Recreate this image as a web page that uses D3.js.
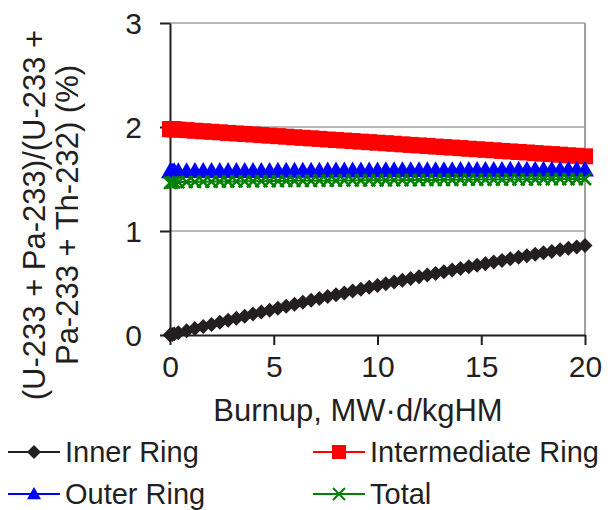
<!DOCTYPE html>
<html>
<head>
<meta charset="utf-8">
<script src="https://cdn.jsdelivr.net/npm/d3@7"></script>
<style>
  body { margin: 0; background: #fff; }
  text { font-family: "Liberation Sans", Arial, sans-serif; fill: #231f20; }
</style>
</head>
<body>
<div id="chart"></div>
<script>
// burnup points, MW·d/kgHM
var burnup = [0, 0.1, 0.2, 0.4, 0.8, 1.2, 1.6, 2.0, 2.4, 2.8, 3.2, 3.6, 4.0, 4.4, 4.8, 5.2, 5.6, 6.0, 6.4, 6.8,
  7.2, 7.6, 8.0, 8.4, 8.8, 9.2, 9.6, 10.0, 10.4, 10.8, 11.2, 11.6, 12.0, 12.4, 12.8, 13.2, 13.6, 14.0,
  14.4, 14.8, 15.2, 15.6, 16.0, 16.4, 16.8, 17.2, 17.6, 18.0, 18.4, 18.8, 19.2, 19.6, 20.0];

var innerRing = [0, 0.005, 0.010, 0.021, 0.041, 0.062, 0.082, 0.102, 0.122, 0.142, 0.162, 0.181, 0.201, 0.220, 0.239, 0.258, 0.277, 0.296, 0.314, 0.333,
  0.351, 0.369, 0.387, 0.405, 0.423, 0.440, 0.458, 0.475, 0.492, 0.509, 0.526, 0.543, 0.559, 0.576, 0.592, 0.608, 0.624, 0.640,
  0.656, 0.671, 0.686, 0.702, 0.717, 0.732, 0.747, 0.761, 0.776, 0.790, 0.804, 0.819, 0.833, 0.846, 0.860];

var intermediateRing = [1.980, 1.979, 1.977, 1.975, 1.970, 1.964, 1.959, 1.954, 1.949, 1.943, 1.938, 1.933, 1.928, 1.922, 1.917, 1.912, 1.907, 1.901, 1.896, 1.891,
  1.886, 1.880, 1.875, 1.870, 1.865, 1.859, 1.854, 1.849, 1.844, 1.839, 1.833, 1.828, 1.823, 1.818, 1.812, 1.807, 1.802, 1.797,
  1.791, 1.786, 1.781, 1.776, 1.770, 1.765, 1.760, 1.755, 1.749, 1.744, 1.739, 1.734, 1.728, 1.723, 1.718];

var outerRing = [1.572, 1.573, 1.574, 1.575, 1.575, 1.576, 1.576, 1.576, 1.577, 1.577, 1.577, 1.578, 1.578, 1.578, 1.578, 1.579, 1.579, 1.579, 1.580, 1.580,
  1.580, 1.581, 1.581, 1.581, 1.582, 1.582, 1.582, 1.582, 1.583, 1.583, 1.583, 1.584, 1.584, 1.584, 1.585, 1.585, 1.585, 1.586,
  1.586, 1.586, 1.587, 1.587, 1.587, 1.588, 1.588, 1.588, 1.588, 1.589, 1.589, 1.589, 1.590, 1.590, 1.590];

var total = [1.463, 1.465, 1.467, 1.470, 1.472, 1.473, 1.474, 1.475, 1.476, 1.476, 1.477, 1.478, 1.478, 1.479, 1.480, 1.480, 1.481, 1.482, 1.482, 1.483,
  1.484, 1.484, 1.485, 1.486, 1.486, 1.487, 1.487, 1.488, 1.488, 1.489, 1.489, 1.490, 1.490, 1.491, 1.491, 1.492, 1.492, 1.493,
  1.493, 1.494, 1.494, 1.495, 1.495, 1.496, 1.496, 1.497, 1.497, 1.498, 1.498, 1.499, 1.499, 1.500, 1.500];

var seriesNames = ["Inner Ring", "Intermediate Ring", "Outer Ring", "Total"];
var seriesColors = ["#231f20", "#ff0000", "#0000ff", "#008000"];
var seriesMarkers = ["diamond", "square", "triangle", "cross"];
var xTicks = [0, 5, 10, 15, 20];
var yTicks = [0, 1, 2, 3];

var series = [innerRing, intermediateRing, outerRing, total].map(function(vals, i) {
  return {
    name: seriesNames[i], color: seriesColors[i], marker: seriesMarkers[i],
    values: vals.map(function(v, j) { return { x: burnup[j], y: v }; })
  };
});

var width = 613, height = 510;
var plotLeft = 170, plotRight = 585, plotTop = 23, plotBottom = 335;

var svg = d3.select("#chart").append("svg")
  .attr("width", width)
  .attr("height", height);

var x = d3.scaleLinear().domain([0, 20]).range([plotLeft, plotRight]);
var y = d3.scaleLinear().domain([0, 3]).range([plotBottom, plotTop]);

// marker shapes, r = half size
function markerPath(type, r) {
  if (type == "diamond") return "M0," + (-r) + "L" + r + ",0L0," + r + "L" + (-r) + ",0Z";
  if (type == "square") return "M" + (-r) + "," + (-r) + "h" + (2 * r) + "v" + (2 * r) + "h" + (-2 * r) + "Z";
  if (type == "triangle") return "M0," + (-r) + "L" + r + "," + (r * 0.75) + "L" + (-r) + "," + (r * 0.75) + "Z";
  return "M" + (-r) + "," + (-r) + "L" + r + "," + r + "M" + (-r) + "," + r + "L" + r + "," + (-r);
}
var markerSize = { diamond: 7.5, square: 8, triangle: 9, cross: 6 };

// gridlines
svg.append("g").selectAll("line")
  .data(yTicks.filter(function(d) { return d > 0; }))
  .enter().append("line")
  .attr("x1", plotLeft).attr("x2", plotRight)
  .attr("y1", function(d) { return y(d); })
  .attr("y2", function(d) { return y(d); })
  .attr("stroke", "#a0a0a0")
  .attr("stroke-width", 1.5);

// right border of plot area
svg.append("line")
  .attr("x1", plotRight).attr("x2", plotRight)
  .attr("y1", plotTop).attr("y2", plotBottom)
  .attr("stroke", "#a0a0a0")
  .attr("stroke-width", 2);

// axes
var xAxis = svg.append("g")
  .attr("transform", "translate(0," + plotBottom + ")")
  .call(d3.axisBottom(x).tickValues(xTicks).tickSizeInner(10).tickSizeOuter(0).tickPadding(10));
var yAxis = svg.append("g")
  .attr("transform", "translate(" + plotLeft + ",0)")
  .call(d3.axisLeft(y).tickValues(yTicks).tickFormat(d3.format("d")).tickSizeInner(10).tickSizeOuter(0).tickPadding(18));

[xAxis, yAxis].forEach(function(ax) {
  ax.select(".domain").attr("stroke", "#231f20").attr("stroke-width", 2);
  ax.selectAll(".tick line").attr("stroke", "#231f20").attr("stroke-width", 2);
  ax.selectAll(".tick text").attr("font-size", 30).attr("fill", "#231f20")
    .style("font-family", "'Liberation Sans', Arial, sans-serif");
});
yAxis.selectAll(".tick text").attr("dy", "0.36em");
xAxis.selectAll(".tick text").attr("dy", "0.72em");

// lines + markers
var line = d3.line()
  .x(function(d) { return x(d.x); })
  .y(function(d) { return y(d.y); });

var sg = svg.append("g").selectAll(".series")
  .data(series)
  .enter().append("g")
  .attr("class", "series");

sg.append("path")
  .attr("d", function(d) { return line(d.values); })
  .attr("fill", "none")
  .attr("stroke", function(d) { return d.color; })
  .attr("stroke-width", 2);

sg.each(function(s) {
  var isCross = s.marker == "cross";
  d3.select(this).selectAll(".pt")
    .data(s.values)
    .enter().append("path")
    .attr("class", "pt")
    .attr("transform", function(d) { return "translate(" + x(d.x) + "," + y(d.y) + ")"; })
    .attr("d", markerPath(s.marker, markerSize[s.marker]))
    .attr("fill", isCross ? "none" : s.color)
    .attr("stroke", isCross ? s.color : "none")
    .attr("stroke-width", isCross ? 2.5 : 0);
});

// axis titles
svg.append("text")
  .attr("x", 358).attr("y", 421)
  .attr("text-anchor", "middle")
  .attr("font-size", 31)
  .text("Burnup, MW\u00b7d/kgHM");

var yTitle = svg.append("text")
  .attr("transform", "translate(45,215) rotate(-90)")
  .attr("text-anchor", "middle")
  .attr("font-size", 31);
yTitle.append("tspan").attr("x", 0).attr("y", 0).text("(U-233 + Pa-233)/(U-233 +");
yTitle.append("tspan").attr("x", 0).attr("y", 33).text("Pa-233 + Th-232) (%)");

// legend
var legendPos = [[8, 452], [313, 452], [8, 494], [313, 494]];
var lg = svg.append("g").selectAll(".legend")
  .data(series)
  .enter().append("g")
  .attr("class", "legend")
  .attr("transform", function(d, i) { return "translate(" + legendPos[i][0] + "," + legendPos[i][1] + ")"; });

lg.append("line")
  .attr("x1", 0).attr("x2", 52)
  .attr("stroke", function(d) { return d.color; })
  .attr("stroke-width", 2);

lg.append("path")
  .attr("transform", "translate(26,0)")
  .attr("d", function(d) { return markerPath(d.marker, d.marker == "cross" ? 6 : 7); })
  .attr("fill", function(d) { return d.marker == "cross" ? "none" : d.color; })
  .attr("stroke", function(d) { return d.marker == "cross" ? d.color : "none"; })
  .attr("stroke-width", 2);

lg.append("text")
  .attr("x", 57).attr("y", 10)
  .attr("font-size", 29)
  .text(function(d) { return d.name; });
</script>
</body>
</html>
